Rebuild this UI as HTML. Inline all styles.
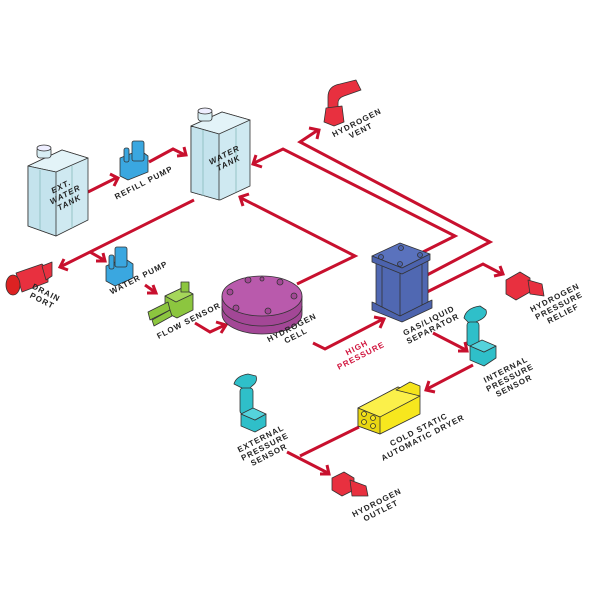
<!DOCTYPE html>
<html><head><meta charset="utf-8"><style>
html,body{margin:0;padding:0;background:#fff}
svg{display:block}
text{font-family:"Liberation Sans",sans-serif;font-weight:bold;font-size:8px;letter-spacing:1px;fill:#222;text-anchor:middle}
.r{fill:#d0103a}
.ln{fill:none;stroke:#c8102e;stroke-width:3;stroke-linejoin:miter}
.o{stroke:#333;stroke-width:0.8;stroke-linejoin:round}
</style></head><body>
<svg width="600" height="600" viewBox="0 0 600 600" xmlns="http://www.w3.org/2000/svg">
<!-- connectors -->
<g class="ln">
<path d="M88,192 L116,178"/><path d="M110,174 L118,178 L114,186"/>
<path d="M149,162 L173,149 L185,155"/><path d="M177,156 L186,155 L184,147"/>
<path d="M194,200 L62,266"/><path d="M68,270 L60,267 L64,259"/>
<path d="M90,252 L104,260"/><path d="M96,261 L105,261 L103,253"/>
<path d="M145,285 L155,292"/><path d="M147,293 L156,293 L153,285"/>
<path d="M195,323 L210,332 L225,325"/><path d="M216,322 L226,325 L221,333"/>
<path d="M297,284 L355,256 L241,198"/><path d="M243,206 L240,197 L249,194"/>
<path d="M423,252 L455,236 L283,149 L254,163"/><path d="M256,155 L253,164 L262,167"/>
<path d="M427,275 L490,242 L300,142 L318,130"/><path d="M309,128 L319,130 L317,139"/>
<path d="M427,292 L483,264 L502,274"/><path d="M494,276 L503,274 L500,266"/>
<path d="M313,343 L325,349 L383,319"/><path d="M374,317 L384,319 L380,328"/>
<path d="M433,333 L466,350"/><path d="M458,351 L467,351 L465,342"/>
<path d="M473,365 L427,389"/><path d="M429,381 L426,390 L435,392"/>
<path d="M359,427 L300,456"/>
<path d="M287,452 L328,473"/><path d="M320,474 L329,474 L327,465"/>
</g>

<!-- ext water tank -->
<g class="o">
<polygon points="28,166 62,150 88,158 88,220 56,236 28,226" fill="#cfe9f1"/>
<polygon points="28,166 62,150 88,158 56,172" fill="#e3f3f8"/>
<polygon points="28,166 56,172 56,236 28,226" fill="#c4e3ed"/>
<line x1="40" y1="170" x2="40" y2="230" stroke="#8bb"/>
<line x1="72" y1="166" x2="72" y2="228" stroke="#8bb"/>
<rect x="37" y="147" width="14" height="11" rx="3" fill="#d8eef4"/>
<ellipse cx="44" cy="148" rx="7" ry="3" fill="#eef"/>
</g>
<g transform="translate(66,196) rotate(-27)"><text y="-8" style="font-style:italic">EXT.</text><text y="1" style="font-style:italic">WATER</text><text y="10" style="font-style:italic">TANK</text></g>

<!-- refill pump -->
<g class="o" fill="#3aa7e0">
<polygon points="120,158 140,150 148,156 148,172 128,180 120,176"/>
<rect x="132" y="141" width="12" height="20" rx="2"/>
<rect x="124" y="148" width="5" height="14" rx="2"/>
</g>
<text transform="translate(145,185) rotate(-27)">REFILL PUMP</text>

<!-- water tank -->
<g class="o">
<polygon points="191,126 222,112 250,120 250,186 220,200 191,192" fill="#cfe9f1"/>
<polygon points="191,126 222,112 250,120 219,134" fill="#e3f3f8"/>
<polygon points="191,126 219,134 219,200 191,192" fill="#c4e3ed"/>
<line x1="203" y1="130" x2="203" y2="196" stroke="#8bb"/>
<line x1="236" y1="128" x2="236" y2="192" stroke="#8bb"/>
<rect x="198" y="110" width="14" height="11" rx="3" fill="#d8eef4"/>
<ellipse cx="205" cy="111" rx="7" ry="3" fill="#eef"/>
</g>
<g transform="translate(227,160) rotate(-27)"><text y="-3" style="font-style:italic">WATER</text><text y="6" style="font-style:italic">TANK</text></g>

<!-- hydrogen vent -->
<g class="o" fill="#e8303f">
<path d="M328,97 Q328,86 340,84 L356,80 L361,90 L344,96 Q338,98 338,103 L338,108 L328,108 Z"/>
<polygon points="326,108 342,106 344,122 334,126 324,122"/>
</g>
<g transform="translate(358,125) rotate(-27)"><text>HYDROGEN</text><text y="9">VENT</text></g>

<!-- drain port -->
<g class="o" fill="#e8303f">
<polygon points="16,273 42,264 48,270 48,282 22,292"/>
<ellipse cx="13" cy="285" rx="7" ry="10" fill="#d22"/>
<polygon points="42,266 52,262 52,276 46,280"/>
</g>
<g transform="translate(45,295) rotate(27)"><text>DRAIN</text><text y="9">PORT</text></g>

<!-- water pump -->
<g class="o" fill="#3aa7e0">
<polygon points="106,266 124,258 133,264 133,278 115,286 106,281"/>
<rect x="115" y="247" width="12" height="20" rx="2"/>
<rect x="109" y="255" width="5" height="14" rx="2"/>
</g>
<text transform="translate(140,280) rotate(-27)">WATER PUMP</text>

<!-- flow sensor -->
<g class="o" fill="#8cc63f">
<polygon points="165,296 182,288 193,294 193,310 177,318 165,312"/>
<polygon points="165,296 182,288 193,294 176,302" fill="#a5d65a"/>
<rect x="181" y="282" width="8" height="10" fill="#8cc63f"/>
<polygon points="148,312 168,302 170,310 150,320"/>
<polygon points="152,320 170,310 172,316 154,326"/>
</g>
<text transform="translate(190,323) rotate(-27)">FLOW SENSOR</text>

<!-- hydrogen cell -->
<g class="o">
<path d="M222,296 L222,314 A40,20 0 0 0 302,314 L302,296 Z" fill="#a34796"/>
<path d="M222,306 A40,20 0 0 0 302,306" fill="none"/>
<ellipse cx="262" cy="296" rx="40" ry="20" fill="#b95aac"/>
<g fill="#a34796">
<circle cx="248" cy="280" r="3"/><circle cx="280" cy="282" r="3"/><circle cx="230" cy="292" r="3"/><circle cx="294" cy="296" r="3"/><circle cx="236" cy="308" r="3"/><circle cx="268" cy="311" r="3"/><circle cx="262" cy="279" r="2"/>
</g>
</g>
<g transform="translate(293,330) rotate(-27)"><text>HYDROGEN</text><text y="9">CELL</text></g>
<g transform="translate(358,350) rotate(-27)"><text class="r">HIGH</text><text class="r" y="9">PRESSURE</text></g>

<!-- separator -->
<g class="o" fill="#4c63ad">
<polygon points="372,302 402,314 432,300 432,308 402,322 372,310"/>
<polygon points="376,262 400,272 428,260 428,302 400,316 376,304" fill="#5068b2"/>
<line x1="400" y1="272" x2="400" y2="316"/>
<line x1="382" y1="266" x2="382" y2="307"/><line x1="422" y1="263" x2="422" y2="305"/>
<polygon points="372,256 400,243 430,254 402,268" fill="#5a72bd"/>
<polygon points="372,256 402,268 430,254 430,260 402,274 372,262"/>
<circle cx="381" cy="257" r="2.5"/><circle cx="401" cy="248" r="2.5"/><circle cx="420" cy="255" r="2.5"/><circle cx="400" cy="264" r="2.5"/>
</g>
<g transform="translate(430,323) rotate(-27)"><text>GAS/LIQUID</text><text y="9">SEPARATOR</text></g>

<!-- pressure relief -->
<g class="o" fill="#e8303f">
<polygon points="506,280 520,272 530,278 530,292 516,300 506,294"/>
<polygon points="528,280 542,284 544,296 530,294"/>
</g>
<g transform="translate(556,300) rotate(-27)"><text>HYDROGEN</text><text y="9">PRESSURE</text><text y="18">RELIEF</text></g>

<!-- internal sensor -->
<g class="o" fill="#2fbfc9">
<path d="M464,318 Q466,308 480,306 L486,310 Q488,316 480,320 L476,322 L476,340 L468,340 L468,322 Z"/>
<rect x="467" y="322" width="12" height="24" rx="3"/>
<polygon points="470,346 484,352 496,346 496,358 484,366 470,360"/>
<polygon points="470,346 482,340 496,346 484,352" fill="#55d3dc"/>
</g>
<g transform="translate(507,372) rotate(-27)"><text>INTERNAL</text><text y="9">PRESSURE</text><text y="18">SENSOR</text></g>

<!-- dryer -->
<g class="o" fill="#f5e41c">
<polygon points="358,408 398,387 420,396 420,414 380,434 358,426" fill="#f7e71e"/>
<polygon points="358,408 398,387 420,396 380,417" fill="#fbf04a"/>
<polygon points="358,408 380,417 380,434 358,426" fill="#e8d612"/>
<polygon points="396,390 410,382 420,386 420,396"/>
<circle cx="364" cy="414" r="2.5"/><circle cx="373" cy="418" r="2.5"/><circle cx="364" cy="422" r="2.5"/><circle cx="373" cy="426" r="2.5"/>
</g>
<g transform="translate(420,432) rotate(-27)"><text>COLD STATIC</text><text y="9">AUTOMATIC DRYER</text></g>

<!-- external sensor -->
<g class="o" fill="#2fbfc9">
<path d="M234,384 Q236,376 248,374 L256,376 Q258,382 252,386 L250,388 L250,400 L242,400 L242,388 Z"/>
<rect x="240" y="388" width="13" height="26" rx="3"/>
<polygon points="241,414 255,420 266,414 266,426 255,432 241,426"/>
<polygon points="241,414 253,408 266,414 255,420" fill="#55d3dc"/>
</g>
<g transform="translate(262,441) rotate(-27)"><text>EXTERNAL</text><text y="9">PRESSURE</text><text y="18">SENSOR</text></g>

<!-- hydrogen outlet -->
<g class="o" fill="#e8303f">
<polygon points="332,478 344,472 354,478 354,490 342,496 332,490"/>
<polygon points="350,480 366,486 368,496 352,496"/>
</g>
<g transform="translate(378,505) rotate(-27)"><text>HYDROGEN</text><text y="9">OUTLET</text></g>
</svg>
</body></html>
